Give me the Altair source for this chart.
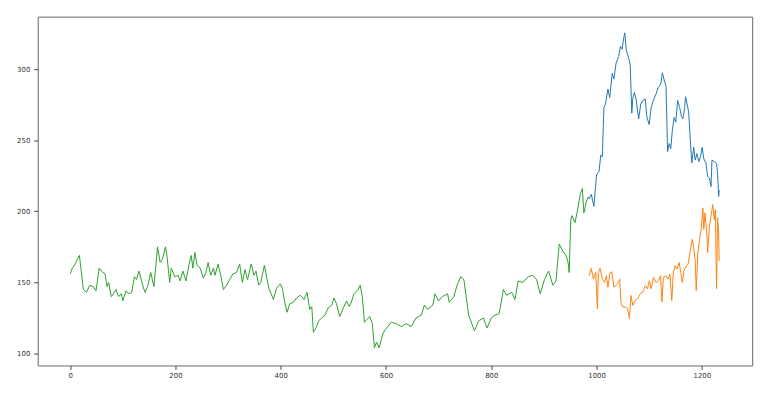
import altair as alt
import pandas as pd

# Green series (training history)
green_x = [0, 4, 8, 12, 17.5, 25, 31, 37, 44, 49, 55, 59, 66, 70, 73, 78, 84, 87, 92, 97,
           100, 106, 111, 117, 122, 126, 131, 136, 142, 147, 153, 159, 166, 171, 175, 181, 184, 189, 192, 199,
           205, 209, 214, 220, 226, 230, 233, 237, 241, 247, 253, 258, 262, 267, 272, 275, 281, 286, 291, 297,
           303, 309, 316, 322, 327, 332, 337, 344, 349, 353, 358, 362, 369, 374, 378, 382, 386, 392, 399, 403,
           407, 412, 417, 424, 430, 437, 444, 450, 455, 459, 462, 467, 472, 478, 484, 490, 497, 501, 506, 512,
           519, 525, 530, 534, 539, 547, 551, 555, 559, 564, 569, 574, 578, 582, 587, 594, 599, 610, 620, 629,
           638, 648, 657, 667, 673, 679, 689, 693, 700, 707, 717, 720, 729, 735, 742, 748, 752, 757, 764, 768,
           776, 785, 792, 800, 807, 815, 823, 829, 839, 845, 851, 860, 870, 879, 886, 893, 901, 909, 917, 923,
           929, 936, 942, 946, 948, 951, 953, 959, 964, 969, 973, 976, 980, 984]
green_y = [156, 160, 162, 165, 169, 145, 143, 148, 147, 144, 160, 158, 156, 147, 150, 140, 143, 145, 140, 142,
           137, 144, 142, 143, 154, 152, 158, 150, 143, 147, 157, 147, 175, 164, 166, 175, 168, 150, 160, 154,
           155, 151, 158, 151, 163, 169, 160, 171, 162, 160, 153, 157, 164, 155, 160, 155, 163, 155, 145, 148,
           152, 156, 157, 163, 150, 159, 152, 163, 155, 158, 148, 150, 162, 152, 145, 142, 138, 146, 149, 146,
           137, 129, 135, 136, 139, 141, 138, 143, 131, 133, 115, 118, 123, 125, 127, 132, 134, 139, 135, 126,
           132, 137, 133, 136, 142, 145, 148, 140, 122, 124, 126, 121, 104, 108, 104, 114, 117, 122, 121, 119,
           121, 119, 125, 127, 134, 131, 134, 142, 137, 140, 142, 136, 140, 148, 154, 152, 141, 127, 120, 116,
           123, 125, 118, 125, 127, 128, 145, 141, 143, 138, 151, 150, 154, 155, 152, 142, 152, 158, 148, 151,
           177, 172, 169, 164, 157, 194, 197, 192, 201, 212, 216, 199, 206, 210]

# Blue series (actual values, validation period)
blue_x = [984, 986, 990, 995, 1000, 1004.7, 1008, 1011, 1014, 1017, 1021.6, 1025, 1029.7, 1033, 1037, 1042,
          1045.5, 1048.5, 1051.7, 1053.6, 1056.7, 1061, 1064, 1067, 1069, 1072, 1075.5, 1080, 1084, 1088,
          1092.5, 1095.5, 1100, 1103.7, 1108, 1113, 1117, 1122, 1125, 1128, 1132, 1135, 1138, 1141, 1144,
          1147.5, 1150.6, 1154, 1158, 1161, 1164, 1167.5, 1169, 1172, 1175, 1178, 1181, 1184.6, 1187.5,
          1190.6, 1194.4, 1197.5, 1200.6, 1203.8, 1208, 1211, 1214.5, 1217.5, 1219.3, 1223.7, 1228, 1230,
          1232, 1233]
blue_y = [210, 209, 212, 203.5, 225.6, 228, 239.5, 238.4, 273, 275.5, 286, 280, 297, 293, 304, 309,
          316, 314, 322, 325.5, 313, 308, 303, 269, 280, 283.5, 278, 265, 275.5, 278,
          279, 266.6, 261, 273, 278, 282.5, 287, 289.5, 297.4, 293, 288, 242, 247.6, 244, 257,
          266, 262.7, 278, 273, 267, 265, 273, 280.6, 275.5, 270, 251, 234, 245, 236,
          240.7, 235, 238.4, 245, 237, 233.7, 224.4, 223.3, 217.5, 236, 235, 233.7, 226.7,
          210.5, 215]

# Orange series (predictions, validation period)
orange_x = [986, 990, 994, 998.5, 1001.6, 1003.5, 1006.6, 1011, 1015.3, 1019, 1021.6, 1025.3, 1029, 1033,
            1037, 1041, 1044, 1046.6, 1050, 1054.8, 1059, 1062.4, 1065.4, 1069, 1073.6, 1078, 1083, 1088,
            1092.5, 1096.7, 1100.5, 1103.7, 1108, 1113, 1117.4, 1121.7, 1124.3, 1127, 1132, 1136, 1139.4,
            1143, 1145.6, 1149, 1153, 1157, 1160, 1163, 1166, 1170.5, 1174, 1178, 1181.8, 1184.6, 1187.5,
            1189.4, 1192.5, 1195.7, 1198.8, 1202, 1203.8, 1206, 1209.4, 1211, 1214.5, 1217.5, 1220.7,
            1223.7, 1225.7, 1228, 1230, 1232, 1233]
orange_y = [154.7, 159.9, 152.3, 157, 131.5, 157, 159.9, 152.3, 150, 154.7, 146.6, 156.6, 157.5, 146.6,
            147.8, 150, 152.3, 135, 132.7, 132.7, 131.5, 124.6, 140.8, 133.8, 137.3, 138.5, 142, 143.2,
            147.8, 145.5, 151.3, 145.5, 153.6, 150, 151.3, 154.7, 136.2, 153.6, 154.7, 152.3, 155.9,
            137.3, 155.9, 161.7, 159.4, 164, 157, 150, 158.2, 161.7, 162.9, 172.2, 180.3, 174.5, 165.2,
            144.3, 171, 180.3, 187.3, 202.4, 187.3, 198.9, 185, 171, 189.6, 196.6, 204.7,
            194.3, 201.2, 145.5, 195.4, 185, 165.2]

x_ticks = [0, 200, 400, 600, 800, 1000, 1200]
y_ticks = [100, 150, 200, 250, 300]

rows = []
for name, order, xs, ys in [("Close", 0, blue_x, blue_y),
                            ("Predictions", 1, orange_x, orange_y),
                            ("Train", 2, green_x, green_y)]:
    for i, (xv, yv) in enumerate(zip(xs, ys)):
        rows.append({"series": name, "x": xv, "y": yv, "i": i})
df = pd.DataFrame(rows)

x_scale = alt.Scale(domain=[-61.7, 1295.7], nice=False, zero=False)
y_scale = alt.Scale(domain=[91.6, 336.9], nice=False, zero=False)

chart = alt.Chart(df).mark_line(strokeWidth=1.0).encode(
    x=alt.X("x:Q", scale=x_scale, title=None,
            axis=alt.Axis(values=x_ticks, format="d", grid=False, domain=False, tickSize=4,
                          tickColor="#444", labelFontSize=7, labelColor="#333",
                          labelPadding=2, labelFont="DejaVu Sans")),
    y=alt.Y("y:Q", scale=y_scale, title=None,
            axis=alt.Axis(values=y_ticks, format="d", grid=False, domain=False, tickSize=4,
                          tickColor="#444", labelFontSize=7, labelColor="#333",
                          labelPadding=4, labelFont="DejaVu Sans")),
    color=alt.Color("series:N",
                    scale=alt.Scale(domain=["Close", "Predictions", "Train"],
                                    range=["#1f77b4", "#ff7f0e", "#2ca02c"]),
                    legend=None),
    detail="series:N",
    order="i:Q",
).properties(
    width=721,
    height=352,
    autosize=alt.AutoSizeParams(type="none"),
    padding={"left": 30, "top": 7, "right": 20, "bottom": 20},
    background="white",
).configure_view(
    stroke="#666666",
    strokeWidth=1,
)

chart.save("out.html", embed_options={"renderer": "svg", "actions": False})
